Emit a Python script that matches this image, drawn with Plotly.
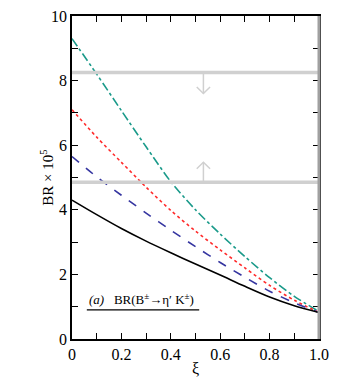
import plotly.graph_objects as go

xi = [0.0, 0.1, 0.2, 0.3, 0.4, 0.5, 0.6, 0.7, 0.8, 0.9, 1.0]
br_solid = [4.3, 3.85, 3.42, 3.03, 2.67, 2.32, 1.98, 1.63, 1.3, 1.03, 0.82]
br_dash = [5.65, 5.02, 4.45, 3.9, 3.37, 2.86, 2.37, 1.91, 1.48, 1.12, 0.82]
br_dot = [7.1, 6.25, 5.47, 4.7, 3.98, 3.34, 2.76, 2.2, 1.66, 1.2, 0.82]
br_dashdot = [9.3, 8.2, 7.07, 5.95, 4.87, 4.0, 3.25, 2.55, 1.9, 1.32, 0.85]

# experimental bounds (gray bands)
exp_upper = 8.25
exp_lower = 4.85
arrow_x = 0.532

serif = "Liberation Serif, Times New Roman, DejaVu Serif, serif"

fig = go.Figure()

for y, color, dash in [
    (br_dashdot, "#1a9a8a", "dashdot"),
    (br_dot, "#ff2a2a", "dot"),
    (br_dash, "#3535a0", "dash"),
    (br_solid, "black", "solid"),
]:
    fig.add_trace(go.Scatter(x=xi, y=y, mode="lines",
                             line=dict(color=color, width=1.6, dash=dash, shape="spline", smoothing=0.8),
                             showlegend=False, hoverinfo="skip"))

band = "#d0d0d0"
for yb in (exp_upper, exp_lower):
    fig.add_shape(type="line", xref="x", yref="y", x0=0, x1=1, y0=yb, y1=yb,
                  line=dict(color=band, width=3.5))

# arrows
fig.add_shape(type="line", x0=arrow_x, x1=arrow_x, y0=exp_upper, y1=exp_upper - 0.65,
              line=dict(color=band, width=1.5))
fig.add_shape(type="path",
              path=f"M {arrow_x-0.027},{exp_upper-0.45} L {arrow_x},{exp_upper-0.65} L {arrow_x+0.027},{exp_upper-0.45}",
              line=dict(color=band, width=1.5))
fig.add_shape(type="line", x0=arrow_x, x1=arrow_x, y0=exp_lower, y1=exp_lower + 0.62,
              line=dict(color=band, width=1.5))
fig.add_shape(type="path",
              path=f"M {arrow_x-0.027},{exp_lower+0.42} L {arrow_x},{exp_lower+0.62} L {arrow_x+0.027},{exp_lower+0.42}",
              line=dict(color=band, width=1.5))

# right border in gray
fig.add_shape(type="line", xref="paper", yref="paper", x0=1, x1=1, y0=0, y1=1,
              line=dict(color="#a0a0a0", width=3))

# legend label with underline
fig.add_annotation(x=0.06, y=1.25, xref="x", yref="y", xanchor="left", yanchor="middle",
                   text="<i>(a)</i>   BR(B<sup>±</sup>→η′ K<sup>±</sup>)", showarrow=False,
                   font=dict(family=serif, size=13, color="black"))
fig.add_shape(type="line", x0=0.06, x1=0.515, y0=0.9, y1=0.9, line=dict(color="black", width=1.2))

axis_common = dict(showline=True, linecolor="black", linewidth=1.5, mirror="ticks",
                   ticks="inside", ticklen=6, tickcolor="black", tickwidth=1.2,
                   showgrid=False, zeroline=False,
                   tickfont=dict(family=serif, size=16, color="black"),
                   minor=dict(ticks="inside", ticklen=6, tickcolor="black", tickwidth=1.2))

fig.update_xaxes(range=[0, 1], tickvals=[0, 0.2, 0.4, 0.6, 0.8, 1.0],
                 ticktext=["0", "0.2", "0.4", "0.6", "0.8", "1.0"],
                 minor_dtick=0.1, **axis_common)
fig.update_yaxes(range=[0, 10], tickvals=[0, 2, 4, 6, 8, 10], minor_dtick=1, **axis_common)

fig.add_annotation(x=0.5, y=-0.092, xref="paper", yref="paper", text="ξ", showarrow=False,
                   yanchor="middle", font=dict(family=serif, size=16, color="black"))
fig.add_annotation(x=-0.06, y=0.5, xref="paper", yref="paper", xanchor="right",
                   text="BR × 10<sup>5</sup>", showarrow=False, textangle=-90,
                   font=dict(family=serif, size=15, color="black"))

fig.update_layout(width=338, height=382, margin=dict(l=72, r=19, t=8, b=43),
                  plot_bgcolor="white", paper_bgcolor="white")

# drop the default page margin so the figure sits at the window's corner
fig.write_html("out.html", config={"displayModeBar": False},
               post_script="document.body.style.margin='0';")
